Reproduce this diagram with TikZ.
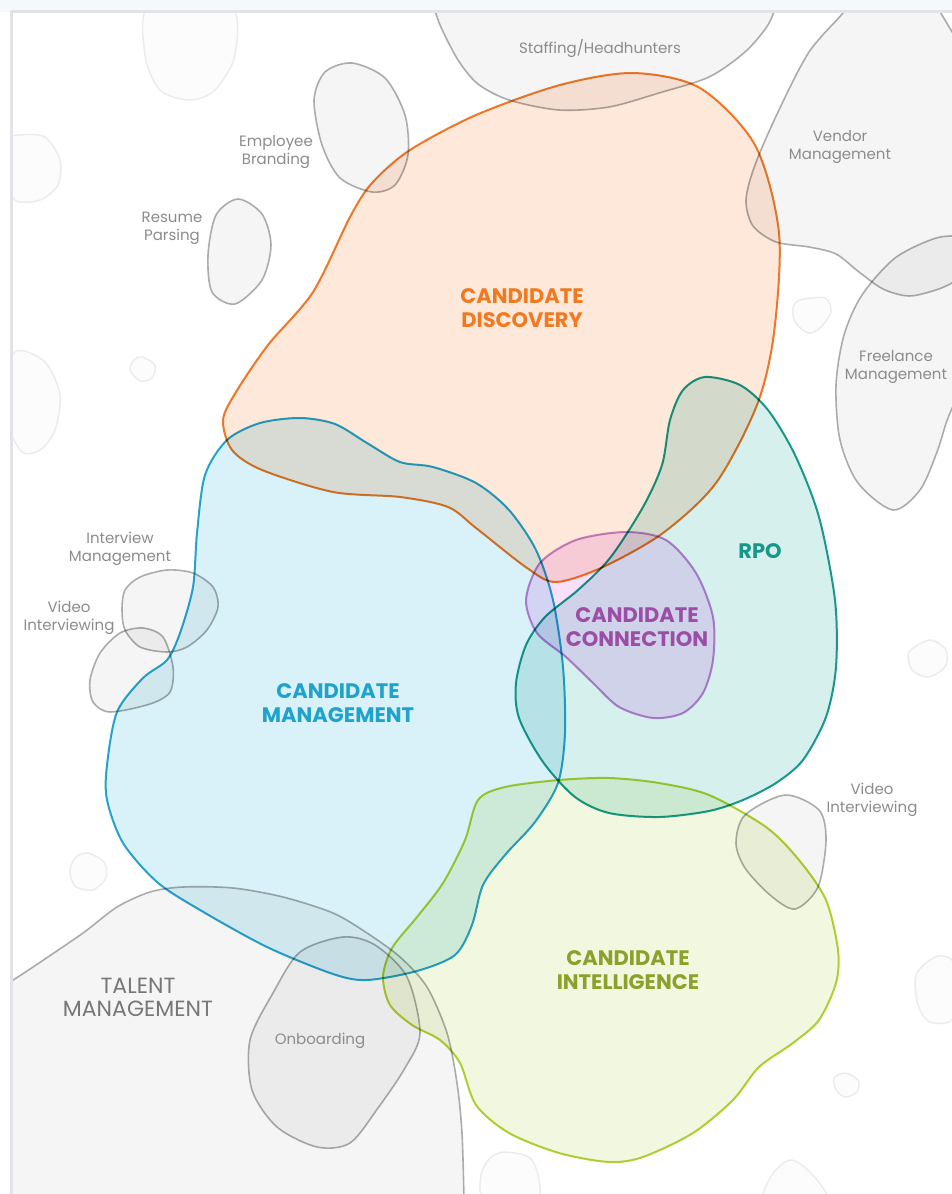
\documentclass[tikz,border=0pt]{standalone}
\usepackage{fontspec}
\setmainfont{Poppins}
\usepackage{tikz}
\definecolor{bandcol}{HTML}{F5F9FB}
\definecolor{framecol}{HTML}{E2E3E7}
\definecolor{grayline}{HTML}{B0B0B0}
\definecolor{grayfill}{HTML}{F5F5F5}
\definecolor{graytext}{HTML}{8C8C8C}
\definecolor{faintline}{HTML}{ECECEC}
\definecolor{faintfill}{HTML}{FCFCFC}
\definecolor{discline}{HTML}{F07D2B}
\definecolor{discfill}{HTML}{FDE8DA}
\definecolor{disctext}{HTML}{F07A22}
\definecolor{mgmtline}{HTML}{2AA8D2}
\definecolor{mgmtfill}{HTML}{D9F1F8}
\definecolor{mgmttext}{HTML}{1FA3CC}
\definecolor{rpoline}{HTML}{1B9E90}
\definecolor{rpofill}{HTML}{D6F0EE}
\definecolor{rpotext}{HTML}{17978A}
\definecolor{connline}{HTML}{C88AD9}
\definecolor{connfill}{HTML}{F8E0FA}
\definecolor{conntext}{HTML}{9C4EA6}
\definecolor{intelline}{HTML}{B3D236}
\definecolor{intelfill}{HTML}{F2F8DF}
\definecolor{inteltext}{HTML}{8BA12B}

\begin{document}
\begin{tikzpicture}[x=1pt,y=-1pt,line cap=round,line join=round,
  grayblob/.style={draw=grayline,fill=grayfill,line width=1.6pt,blend mode=multiply},
  faintblob/.style={draw=faintline,fill=faintfill,line width=1.5pt},
  zone/.style={line width=2pt,blend mode=multiply},
  smalllabel/.style={text=graytext,align=center,font=\fontsize{15}{18}\selectfont},
  biglabel/.style={align=center,font=\bfseries\fontsize{21}{23.5}\selectfont}]
\useasboundingbox (0,0) rectangle (952,1194);
\fill[bandcol] (0,0) rectangle (952,12);
\begin{scope}
\clip (12,12) rectangle (952,1194);
\fill[white] (12,12) rectangle (952,1194);
\draw[faintblob] plot[smooth cycle] coordinates {(150,5)(230,5)(235,55)(215,90)(190,100)(160,90)(145,55)};
\draw[faintblob] plot[smooth cycle] coordinates {(20,135)(45,137)(60,160)(58,185)(40,200)(15,200)(0,170)(5,140)};
\draw[faintblob] plot[smooth cycle] coordinates {(15,352)(45,362)(60,395)(55,430)(40,450)(20,450)(0,400)};
\draw[faintblob] plot[smooth cycle] coordinates {(142,357)(155,365)(152,378)(140,381)(130,370)(134,360)};
\draw[faintblob] plot[smooth cycle] coordinates {(88,853)(104,862)(106,878)(93,890)(75,886)(70,870)(76,857)};
\draw[faintblob] plot[smooth cycle] coordinates {(800,300)(825,298)(831,312)(820,328)(808,333)(795,322)(793,308)};
\draw[faintblob] plot[smooth cycle] coordinates {(930,640)(946,650)(945,667)(928,677)(912,670)(909,652)};
\draw[faintblob] plot[smooth cycle] coordinates {(935,957)(952,960)(960,990)(952,1020)(930,1022)(918,1005)(916,975)};
\draw[faintblob] plot[smooth cycle] coordinates {(845,1073)(858,1080)(857,1092)(845,1097)(836,1090)(834,1078)};
\draw[faintblob] plot[smooth cycle] coordinates {(505,1152)(530,1158)(539,1180)(535,1200)(485,1200)(481,1175)(490,1158)};
\draw[faintblob] plot[smooth cycle] coordinates {(790,1160)(810,1172)(826,1200)(766,1200)(772,1175)};
\draw[grayblob] plot[smooth] coordinates {(432,0)(440,25)(458,60)(478,84)(509,100)(559,110)(609,107)(659,93)(709,77)(745,52)(768,25)(778,0)} -- (778,-10) -- (432,-10) -- cycle;
\draw[grayblob] plot[smooth] coordinates {(850,0)(843,13)(809,52)(778,112)(755,165)(746,200)(753,226)(776,242)(809,247)(836,254)(859,272)(883,289)(909,296)(936,290)(952,283)(965,275)} -- (975,270) -- (975,70) -- (930,-5) -- (850,-5) -- cycle;
\draw[grayblob] plot[smooth] coordinates {(965,236)(936,238)(895,258)(862,295)(844,335)(836,385)(840,440)(858,483)(893,510)(920,490)(937,452)(948,418)(965,380)} -- cycle;
\draw[grayblob] plot[smooth cycle] coordinates {(352,63)(385,78)(405,115)(408,155)(395,185)(372,192)(340,178)(322,145)(314,100)(325,72)};
\draw[grayblob] plot[smooth cycle] coordinates {(238,199)(262,214)(271,245)(262,280)(235,304)(212,292)(208,255)(216,215)};
\draw[grayblob] plot[smooth cycle] coordinates {(140,577)(167,570)(193,573)(213,587)(218,607)(207,630)(187,647)(167,652)(140,647)(125,630)(122,610)(125,590)};
\draw[grayblob] plot[smooth cycle] coordinates {(143,628)(163,637)(173,667)(170,692)(150,704)(110,712)(93,702)(90,680)(100,653)(120,633)};
\draw[grayblob] plot[smooth cycle] coordinates {(785,795)(819,810)(826,840)(818,887)(795,909)(770,895)(745,868)(736,843)(745,815)};
\draw[grayblob] plot[smooth] coordinates {(-20,1000)(13,980)(33,967)(83,933)(117,907)(150,892)(183,887)(233,888)(283,897)(333,913)(367,933)(400,957)(427,987)(447,1033)(457,1083)(462,1133)(464,1200)} -- (464,1210) -- (-20,1210) -- cycle;
\draw[grayblob] plot[smooth cycle] coordinates {(343,937)(375,945)(407,977)(420,1033)(405,1068)(378,1108)(350,1143)(317,1147)(277,1127)(252,1090)(250,1040)(273,993)(300,952)};
\draw[zone,draw=discline,fill=discfill] plot[smooth cycle] coordinates {(633,73)(700,88)(755,145)(779,233)(774,333)(757,405)(716,483)(663,533)(603,567)(556,582)(527,568)(476,528)(448,507)(400,497)(333,492)(262,470)(232,450)(223,420)(236,392)(268,345)(313,292)(350,217)(372,183)(410,150)(476,115)(560,85)};
\draw[zone,draw=mgmtline,fill=mgmtfill] plot[smooth cycle] coordinates {(300,418)(335,424)(367,443)(400,462)(433,467)(476,483)(509,510)(536,550)(553,600)(563,667)(565,733)(558,783)(535,822)(505,855)(483,885)(472,925)(455,955)(417,971)(367,980)(333,974)(267,947)(200,910)(157,882)(123,843)(107,800)(107,765)(117,712)(143,678)(167,660)(180,633)(193,587)(197,533)(205,475)(227,440)(260,423)};
\draw[zone,draw=rpoline,fill=rpofill] plot[smooth cycle] coordinates {(705,377)(740,385)(768,410)(795,455)(819,517)(835,600)(836,667)(826,717)(803,760)(776,783)(743,800)(709,811)(659,817)(609,813)(575,797)(543,762)(519,718)(516,683)(526,645)(545,617)(578,590)(610,558)(643,507)(662,465)(670,420)(683,390)};
\draw[zone,draw=intelline,fill=intelfill] plot[smooth cycle] coordinates {(478,800)(505,787)(559,780)(609,778)(659,783)(709,795)(766,827)(799,860)(826,900)(838,950)(836,983)(819,1020)(793,1043)(759,1067)(733,1100)(693,1133)(643,1157)(609,1162)(559,1153)(509,1133)(476,1105)(460,1063)(440,1040)(412,1025)(390,1005)(383,977)(392,948)(417,917)(443,883)(465,840)};
\draw[zone,draw=connline,fill=connfill] plot[smooth cycle] coordinates {(526,600)(540,563)(576,540)(626,532)(666,540)(696,573)(713,617)(713,660)(703,693)(683,713)(653,718)(619,707)(593,683)(566,657)(537,633)};
\end{scope}
\draw[framecol,line width=2.5pt] (11.5,1194) -- (11.5,11.5) -- (952,11.5);
\node[smalllabel] (lblStaffing) at (600,48) {Staffing/Headhunters};
\node[smalllabel] (lblBranding) at (276,152) {Employee\\Branding};
\node[smalllabel] (lblResume) at (172,228) {Resume\\Parsing};
\node[smalllabel] (lblVendor) at (840,147) {Vendor\\Management};
\node[smalllabel] (lblFreelance) at (896,367) {Freelance\\Management};
\node[smalllabel] (lblInterview) at (120,549) {Interview\\Management};
\node[smalllabel] (lblVideoL) at (69,618) {Video\\Interviewing};
\node[smalllabel] (lblVideoR) at (872,800) {Video\\Interviewing};
\node[smalllabel] (lblOnboard) at (320,1041) {Onboarding};
\node[smalllabel,text=graytext!85!black,font=\fontsize{22}{23}\selectfont] (lblTalent) at (138,997) {TALENT\\MANAGEMENT};
\node[biglabel,text=disctext] (lblDisc) at (522,308) {CANDIDATE\\DISCOVERY};
\node[biglabel,text=mgmttext] (lblMgmt) at (338,703) {CANDIDATE\\MANAGEMENT};
\node[biglabel,text=rpotext] (lblRpo) at (760,551) {RPO};
\node[biglabel,text=conntext] (lblConn) at (637,627) {CANDIDATE\\CONNECTION};
\node[biglabel,text=inteltext] (lblIntel) at (628,970) {CANDIDATE\\INTELLIGENCE};
\end{tikzpicture}
\end{document}
